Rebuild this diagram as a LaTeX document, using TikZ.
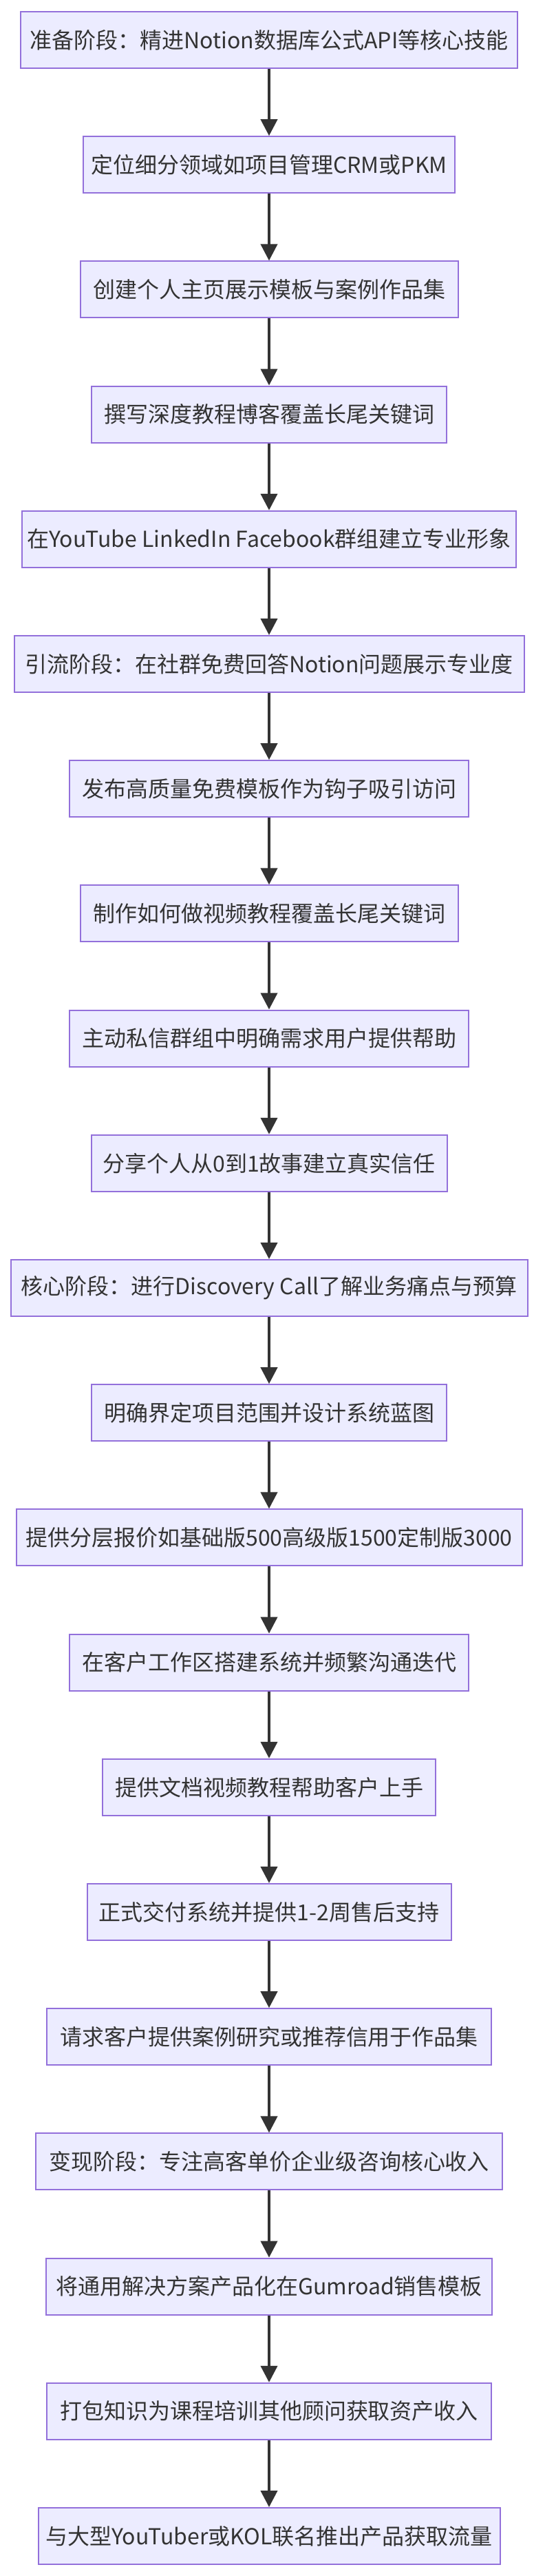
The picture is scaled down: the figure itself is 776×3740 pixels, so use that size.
\documentclass[tikz,border=0pt]{standalone}
\usepackage{fontspec}
\setmainfont{Noto Sans CJK SC}
\usetikzlibrary{arrows.meta}
\definecolor{boxFill}{HTML}{ECECFF}
\definecolor{boxLine}{HTML}{9370DB}
\definecolor{inkGray}{HTML}{333333}

\begin{document}
\begin{tikzpicture}[x=1pt, y=1pt,
    stagebox/.style={draw=boxLine, line width=2pt, fill=boxFill, text=inkGray,
        minimum height=82pt, inner xsep=0pt, font=\fontsize{32}{40}\selectfont},
    flowarrow/.style={draw=inkGray, line width=4pt, -{Triangle[width=24pt,length=24pt]}}]

    % --- PARAMETRY ---
    \pgfmathsetmacro{\midX}{391}      % oś środkowa
    \pgfmathsetmacro{\topY}{58}       % środek pierwszego kroku
    \pgfmathsetmacro{\rowGap}{181.2}  % odstęp między krokami

    \useasboundingbox (0,0) rectangle (776,-3740);

    % Kroki (szerokość/tekst)
    \foreach \w/\txt [count=\i] in {
        722/准备阶段：精进Notion数据库公式API等核心技能,
        540/定位细分领域如项目管理CRM或PKM,
        549/创建个人主页展示模板与案例作品集,
        516/撰写深度教程博客覆盖长尾关键词,
        718/在YouTube LinkedIn Facebook群组建立专业形象,
        741/引流阶段：在社群免费回答Notion问题展示专业度,
        580/发布高质量免费模板作为钩子吸引访问,
        549/制作如何做视频教程覆盖长尾关键词,
        580/主动私信群组中明确需求用户提供帮助,
        517/分享个人从0到1故事建立真实信任,
        751/核心阶段：进行Discovery Call了解业务痛点与预算,
        516/明确界定项目范围并设计系统蓝图,
        735/提供分层报价如基础版500高级版1500定制版3000,
        580/在客户工作区搭建系统并频繁沟通迭代,
        484/提供文档视频教程帮助客户上手,
        529/正式交付系统并提供1-2周售后支持,
        646/请求客户提供案例研究或推荐信用于作品集,
        678/变现阶段：专注高客单价企业级咨询核心收入,
        648/将通用解决方案产品化在Gumroad销售模板,
        646/打包知识为课程培训其他顾问获取资产收入,
        671/与大型YouTuber或KOL联名推出产品获取流量}
        \node[stagebox, minimum width=\w pt] (stage\i)
            at (\midX, {-\topY-\rowGap*(\i-1)}) {\txt};

    % Strzałki
    \foreach \i [evaluate=\i as \j using int(\i+1)] in {1,...,20}
        \draw[flowarrow] (stage\i) -- (stage\j);
\end{tikzpicture}
\end{document}
